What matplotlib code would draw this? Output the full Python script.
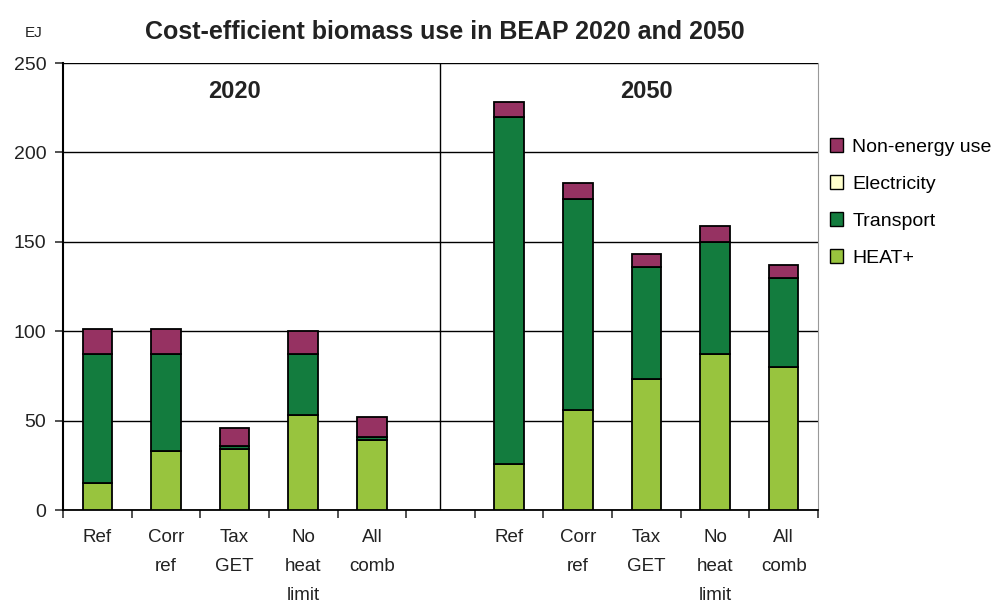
import numpy as np
import matplotlib.pyplot as plt
from matplotlib.patches import Patch

plt.rcParams['font.family'] = ['Liberation Sans', 'DejaVu Sans']

scenarios = ['Ref', 'Corr\nref', 'Tax\nGET', 'No\nheat\nlimit', 'All\ncomb']
years = ['2020', '2050']

# stacked values in EJ, 2020 scenarios then 2050 scenarios
heat = [15, 33, 34, 53, 39, 26, 56, 73, 87, 80]
transport = [72, 54, 2, 34, 2, 194, 118, 63, 63, 50]
electricity = [0, 0, 0, 0, 0, 0, 0, 0, 0, 0]
non_energy = [14, 14, 10, 13, 11, 8, 9, 7, 9, 7]

series = [('HEAT+', heat, '#98C43E'),
          ('Transport', transport, '#137C3E'),
          ('Electricity', electricity, '#FFFFCC'),
          ('Non-energy use', non_energy, '#963262')]

# positions: 5 bars, one empty slot, 5 bars
x = np.array([0, 1, 2, 3, 4, 6, 7, 8, 9, 10])

fig = plt.figure(figsize=(10.05, 6.06), dpi=100)
ax = fig.add_axes([0.0627, 0.1584, 0.7512, 0.7376])

bottom = np.zeros(len(x))
for name, vals, color in series:
    vals = np.array(vals, dtype=float)
    ax.bar(x, vals, 0.43, bottom=bottom, color=color, edgecolor='black',
           linewidth=1.3, zorder=3)
    bottom += vals

ax.set_xlim(-0.5, 10.5)
ax.set_ylim(0, 250)
ax.set_yticks(range(0, 251, 50))
ax.yaxis.grid(True, color='black', linewidth=1.0, zorder=0)
ax.set_axisbelow(True)
ax.axvline(5, color='black', linewidth=1.0, zorder=2)

ax.set_xticks(np.arange(-0.5, 11, 1))
ax.set_xticklabels([])
ax.tick_params(axis='x', length=6, width=1.2, direction='out', color='#333333')
ax.set_xticks(x, minor=True)
ax.set_xticklabels(scenarios * 2, minor=True, fontsize=13.5, linespacing=1.9,
                   va='top', color='#222222')
ax.tick_params(axis='x', which='minor', length=0, pad=14)
ax.tick_params(axis='y', length=6, width=1.2, labelsize=14, pad=6, color='#333333',
               labelcolor='#222222')

ax.spines['top'].set_visible(False)
ax.spines['right'].set_color('#999999')
ax.spines['left'].set_linewidth(1.5)
ax.spines['bottom'].set_linewidth(1.3)

ax.text(2, 234, years[0], ha='center', va='center', fontsize=17, fontweight='bold', color='#222222')
ax.text(8, 234, years[1], ha='center', va='center', fontsize=17, fontweight='bold', color='#222222')

fig.text(0.443, 0.947, 'Cost-efficient biomass use in BEAP 2020 and 2050',
         ha='center', va='center', fontsize=18, fontweight='bold', color='#222222')
fig.text(0.025, 0.945, 'EJ', ha='left', va='center', fontsize=11, color='#222222')

handles = [Patch(facecolor=c, edgecolor='black', linewidth=1.0, label=n)
           for n, v, c in reversed(series)]
fig.legend(handles=handles, loc='upper left', bbox_to_anchor=(0.818, 0.785),
           frameon=False, fontsize=14, handlelength=0.7, handleheight=0.7,
           handletextpad=0.45, labelspacing=1.0, borderaxespad=0)

fig.savefig('out.png', dpi=100)
